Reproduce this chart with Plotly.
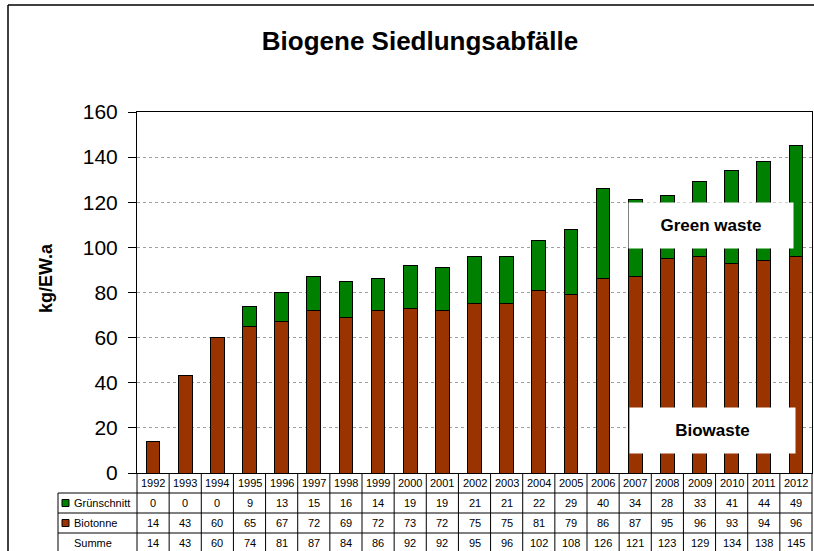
import plotly.graph_objects as go

years = [str(y) for y in range(1992, 2013)]
gruenschnitt = [0, 0, 0, 9, 13, 15, 16, 14, 19, 19, 21, 21, 22, 29, 40, 34, 28, 33, 41, 44, 49]
biotonne = [14, 43, 60, 65, 67, 72, 69, 72, 73, 72, 75, 75, 81, 79, 86, 87, 95, 96, 93, 94, 96]
summe = [14, 43, 60, 74, 81, 87, 84, 86, 92, 92, 95, 96, 102, 108, 126, 121, 123, 129, 134, 138, 145]

GREEN = "#008000"
BROWN = "#993300"
FONT = "Arial, Liberation Sans, sans-serif"

W, H = 814, 551
ML, MR, MT, MB = 137, 2, 112, 78
PW = W - ML - MR
PH = H - MT - MB

fig = go.Figure()
fig.add_trace(go.Bar(x=years, y=biotonne, name="Biotonne", marker=dict(color=BROWN, line=dict(color="black", width=1))))
fig.add_trace(go.Bar(x=years, y=gruenschnitt, name="Grünschnitt", marker=dict(color=GREEN, line=dict(color="black", width=1))))

shapes = []
annotations = []

row_lines = [-20, -40, -60]
row_centers = [-10, -30, -50, -70]
n = len(years)

for y in row_lines:
    shapes.append(dict(type="line", xref="paper", yref="paper", xsizemode="pixel", xanchor=0,
                       ysizemode="pixel", yanchor=0, x0=-79, x1=PW, y0=y, y1=y,
                       line=dict(color="black", width=1)))
for k in range(n + 1):
    shapes.append(dict(type="line", xref="paper", yref="paper", ysizemode="pixel", yanchor=0,
                       x0=k / n, x1=k / n, y0=0, y1=-90, line=dict(color="black", width=1)))
shapes.append(dict(type="line", xref="paper", yref="paper", xsizemode="pixel", xanchor=0,
                   ysizemode="pixel", yanchor=0, x0=-79, x1=-79, y0=-20, y1=-90,
                   line=dict(color="black", width=1)))
for yc, col in [(-30, GREEN), (-50, BROWN)]:
    shapes.append(dict(type="rect", xref="paper", yref="paper", xsizemode="pixel", xanchor=0,
                       ysizemode="pixel", yanchor=0, x0=-75, x1=-68, y0=yc - 3.5, y1=yc + 3.5,
                       fillcolor=col, line=dict(color="black", width=1)))
shapes.append(dict(type="line", xref="paper", yref="paper", xsizemode="pixel", xanchor=0,
                   ysizemode="pixel", yanchor=1, x0=-129, x1=PW + 10, y0=107, y1=107,
                   line=dict(color="black", width=1.5)))
shapes.append(dict(type="line", xref="paper", yref="paper", xsizemode="pixel", xanchor=0,
                   ysizemode="pixel", yanchor=1, x0=-129, x1=-129, y0=107, y1=-PH - 100,
                   line=dict(color="black", width=1.5)))

rows = [years, gruenschnitt, biotonne, summe]
for r, vals in enumerate(rows):
    for i, v in enumerate(vals):
        annotations.append(dict(x=(i + 0.5) / n, y=0, xref="paper", yref="paper", yshift=row_centers[r],
                                text=str(v), showarrow=False, xanchor="center", yanchor="middle",
                                font=dict(family=FONT, size=11, color="black")))
for label, yc in [("Grünschnitt", -30), ("Biotonne", -50), ("Summe", -70)]:
    annotations.append(dict(x=0, y=0, xref="paper", yref="paper", xshift=-65, yshift=yc,
                            text=label, showarrow=False, xanchor="left", yanchor="middle",
                            font=dict(family=FONT, size=11, color="black")))

annotations.append(dict(x=0, y=(473 - 278) / PH, xref="paper", yref="paper", xshift=-91,
                        text="<b>kg/EW.a</b>", textangle=-90, showarrow=False,
                        xanchor="center", yanchor="middle",
                        font=dict(family=FONT, size=18, color="black")))

annotations.append(dict(x=17.36, y=109.5, xref="x", yref="y", text="<b>Green waste</b>",
                        showarrow=False, bgcolor="white", width=162, height=43,
                        font=dict(family=FONT, size=17, color="black")))
annotations.append(dict(x=17.4, y=18.8, xref="x", yref="y", text="<b>Biowaste</b>",
                        showarrow=False, bgcolor="white", width=163, height=43,
                        font=dict(family=FONT, size=17, color="black")))

fig.update_layout(
    width=W, height=H,
    margin=dict(l=ML, r=MR, t=MT, b=MB, pad=0),
    barmode="stack", bargap=0.57,
    plot_bgcolor="white", paper_bgcolor="white",
    showlegend=False,
    title=dict(text="<b>Biogene Siedlungsabfälle</b>", x=420 / W, xref="container", xanchor="center",
               y=1 - 41 / H, yref="container", yanchor="middle",
               font=dict(family=FONT, size=26, color="black")),
    xaxis=dict(type="category", showticklabels=False, ticks="", showgrid=False, showline=True,
               linecolor="black", linewidth=1, mirror=True, range=[-0.5, n - 0.5]),
    yaxis=dict(range=[0, 160], dtick=20, ticks="outside", ticklen=8, tickcolor="black",
               showline=True, linecolor="black", linewidth=1, mirror=True, ticklabelstandoff=6,
               showgrid=True, gridcolor="#a0a0a0", griddash="dot", gridwidth=1, zeroline=False,
               tickfont=dict(family=FONT, size=21, color="black")),
    shapes=shapes, annotations=annotations,
)

fig.write_html("out.html", config={"displayModeBar": False},
               post_script="document.body.style.margin='0';document.body.style.overflow='hidden';")
